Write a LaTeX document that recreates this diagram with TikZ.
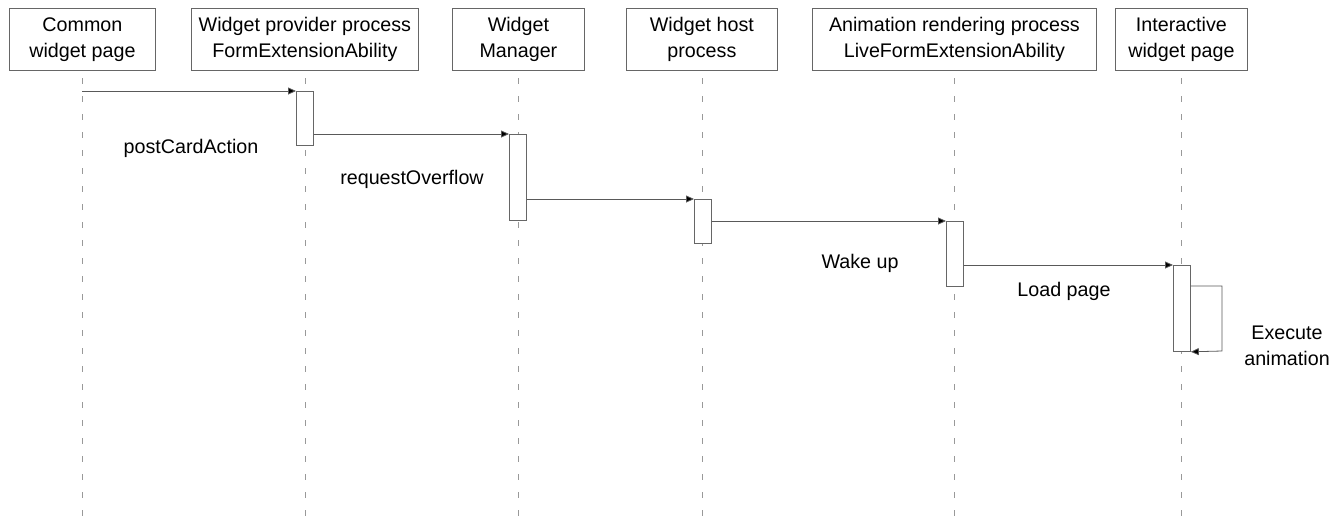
\documentclass[tikz,border=0pt]{standalone}
\usepackage{fontspec}
\setmainfont{Liberation Sans}
\usetikzlibrary{arrows.meta}
\begin{document}
\begin{tikzpicture}[x=1pt,y=-1pt,
  font=\fontsize{19.7}{26}\selectfont,
  head/.style={draw=gray!80!black, line width=0.8pt, align=center, inner sep=0pt, anchor=north west},
  life/.style={draw=gray!80, line width=0.8pt, dash pattern=on 6pt off 12pt},
  act/.style={draw=gray!80!black, fill=white, line width=0.8pt},
  msg/.style={draw=gray!70!black, line width=0.8pt, -{Triangle[length=8pt,width=7pt,fill=black]}},
  lbl/.style={inner sep=0pt}]
\useasboundingbox (0,0) rectangle (1338,531);
% headers
\node[head, minimum width=146pt, minimum height=62pt] (h1) at (9,8) {Common\\widget page};
\node[head, minimum width=227pt, minimum height=62pt] (h2) at (191,8) {Widget provider process\\FormExtensionAbility};
\node[head, minimum width=132pt, minimum height=62pt] (h3) at (452,8) {Widget\\Manager};
\node[head, minimum width=151pt, minimum height=62pt] (h4) at (626,8) {Widget host\\process};
\node[head, minimum width=284pt, minimum height=62pt] (h5) at (812,8) {Animation rendering process\\LiveFormExtensionAbility};
\node[head, minimum width=132pt, minimum height=62pt] (h6) at (1115,8) {Interactive\\widget page};
% lifeline ends
\coordinate (e1) at (82,525);
\coordinate (e2) at (305,525);
\coordinate (e3) at (518,525);
\coordinate (e4) at (702,525);
\coordinate (e5) at (954,525);
\coordinate (e6) at (1181,525);
\draw[life] (82,78) -- (e1);
\draw[life] (305,78) -- (e2);
\draw[life] (518,78) -- (e3);
\draw[life] (702,78) -- (e4);
\draw[life] (954,78) -- (e5);
\draw[life] (1181,78) -- (e6);
% activations
\node[act, minimum width=17pt, minimum height=54pt, inner sep=0pt, anchor=north west] (a2) at (296,91) {};
\node[act, minimum width=17pt, minimum height=86pt, inner sep=0pt, anchor=north west] (a3) at (509,134) {};
\node[act, minimum width=17pt, minimum height=44pt, inner sep=0pt, anchor=north west] (a4) at (694,199) {};
\node[act, minimum width=17pt, minimum height=65pt, inner sep=0pt, anchor=north west] (a5) at (946,221) {};
\node[act, minimum width=17pt, minimum height=86pt, inner sep=0pt, anchor=north west] (a6) at (1173,265) {};
% messages
\coordinate (s1) at (82,91);
\draw[msg] (s1) -- (a2.north west);
\draw[msg] (a2.east |- 0,134) -- (a3.north west);
\draw[msg] (a3.east |- 0,199) -- (a4.north west);
\draw[msg] (a4.east |- 0,221) -- (a5.north west);
\draw[msg] (a5.east |- 0,265) -- (a6.north west);
\draw[msg] (a6.east |- 0,286) -- (1222,286) -- (1222,351) -- (a6.south east);
% labels
\node[lbl] (l1) at (191,148) {postCardAction};
\node[lbl] (l2) at (412,179) {requestOverflow};
\node[lbl] (l3) at (860,263) {Wake up};
\node[lbl] (l4) at (1064,291) {Load page};
\node[lbl, align=center] (l5) at (1287,346) {Execute\\animation};
\end{tikzpicture}
\end{document}
